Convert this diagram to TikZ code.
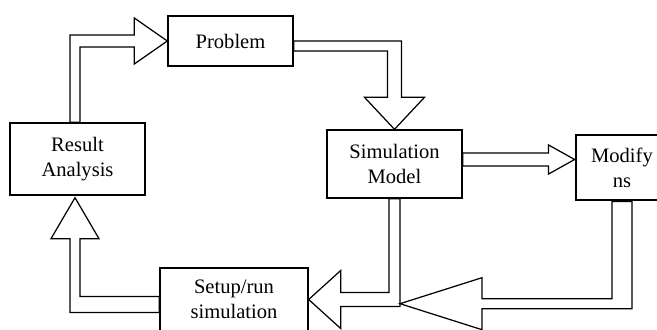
\documentclass[tikz,border=0pt]{standalone}
\usepackage{fontspec}
\setmainfont{Liberation Serif}
\usetikzlibrary{calc}
\usetikzlibrary{positioning}

\begin{document}
\begin{tikzpicture}[x=0.02cm, y=-0.02cm, every node/.style={font=\fontsize{11.7}{14.2}\selectfont}]
  % compact, consistent block style
  \tikzset{block/.style={draw, fill=white, line width=0.8pt, inner sep=0pt, align=center},
           fat/.style={draw, fill=white, line width=0.7pt, line join=miter}}

  \useasboundingbox (0,0) rectangle (657,329);
  \clip (0,0) rectangle (657,329);

  % nodes and layout
  \node[block, minimum width=2.5cm, minimum height=1.0cm] (prob) at (230.5,41) {Problem};
  \node[block, minimum width=2.7cm, minimum height=1.44cm] (res) at (77.5,159) {Result\\Analysis};
  \node[block, minimum width=2.7cm, minimum height=1.36cm] (sim) at (394.5,164) {Simulation\\Model};
  \node[block, line width=1.6pt, minimum width=1.84cm, minimum height=1.3cm] (mod) at (622,167.5) {Modify\\ns};
  \node[block, minimum width=2.96cm, minimum height=1.26cm] (setup) at (234,299.5) {Setup/run\\simulation};
  \coordinate (join) at ($(sim.south)+(5.5,105)$);

  % block arrows between the boxes
  \draw[fat] ($(res.north)+(-7.5,0)$) |- ($(prob.west)+(-33,-6)$) -- ++(0,-17) -- (prob.west)
    -- ++(-33,23) -- ++(0,-17) -| ($(res.north)+(2.5,0)$) -- cycle;
  \draw[fat] (prob.east) -| ($(sim.north)+(7,-32)$) -- ++(23,0) -- (sim.north)
    -- ++(-30,-32) -- ++(23,0) |- ($(prob.east)+(0,10)$) -- cycle;
  \draw[fat] ($(sim.east)+(0,-11)$) -- ($(mod.west)+(-26,-14.5)$) -- ++(0,-8) -- ($(mod.west)+(0,-8)$)
    -- ++(-26,14.5) -- ++(0,-8) -- ($(sim.east)+(0,2)$) -- cycle;
  \draw[fat] ($(sim.south)+(-5.5,0)$) |- ($(setup.east)+(32,-7)$) -- ++(0,-22) -- (setup.east)
    -- ++(32,29) -- ++(0,-22) -| ($(sim.south)+(5.5,0)$) -- cycle;
  \draw[fat] ($(mod.south)+(-10,0)$) |- ($(join)+(82,-5)$) -- ++(0,-21) -- (join)
    -- ++(82,26) -- ++(0,-21) -| ($(mod.south)+(10,0)$) -- cycle;
  \draw[fat] ($(setup.west)+(0,-3)$) -| ($(res.south)+(2.5,43)$) -- ++(19,0) -- ($(res.south)+(-2.5,2)$)
    -- ++(-24,41) -- ++(19,0) |- ($(setup.west)+(0,13)$) -- cycle;
\end{tikzpicture}
\end{document}
